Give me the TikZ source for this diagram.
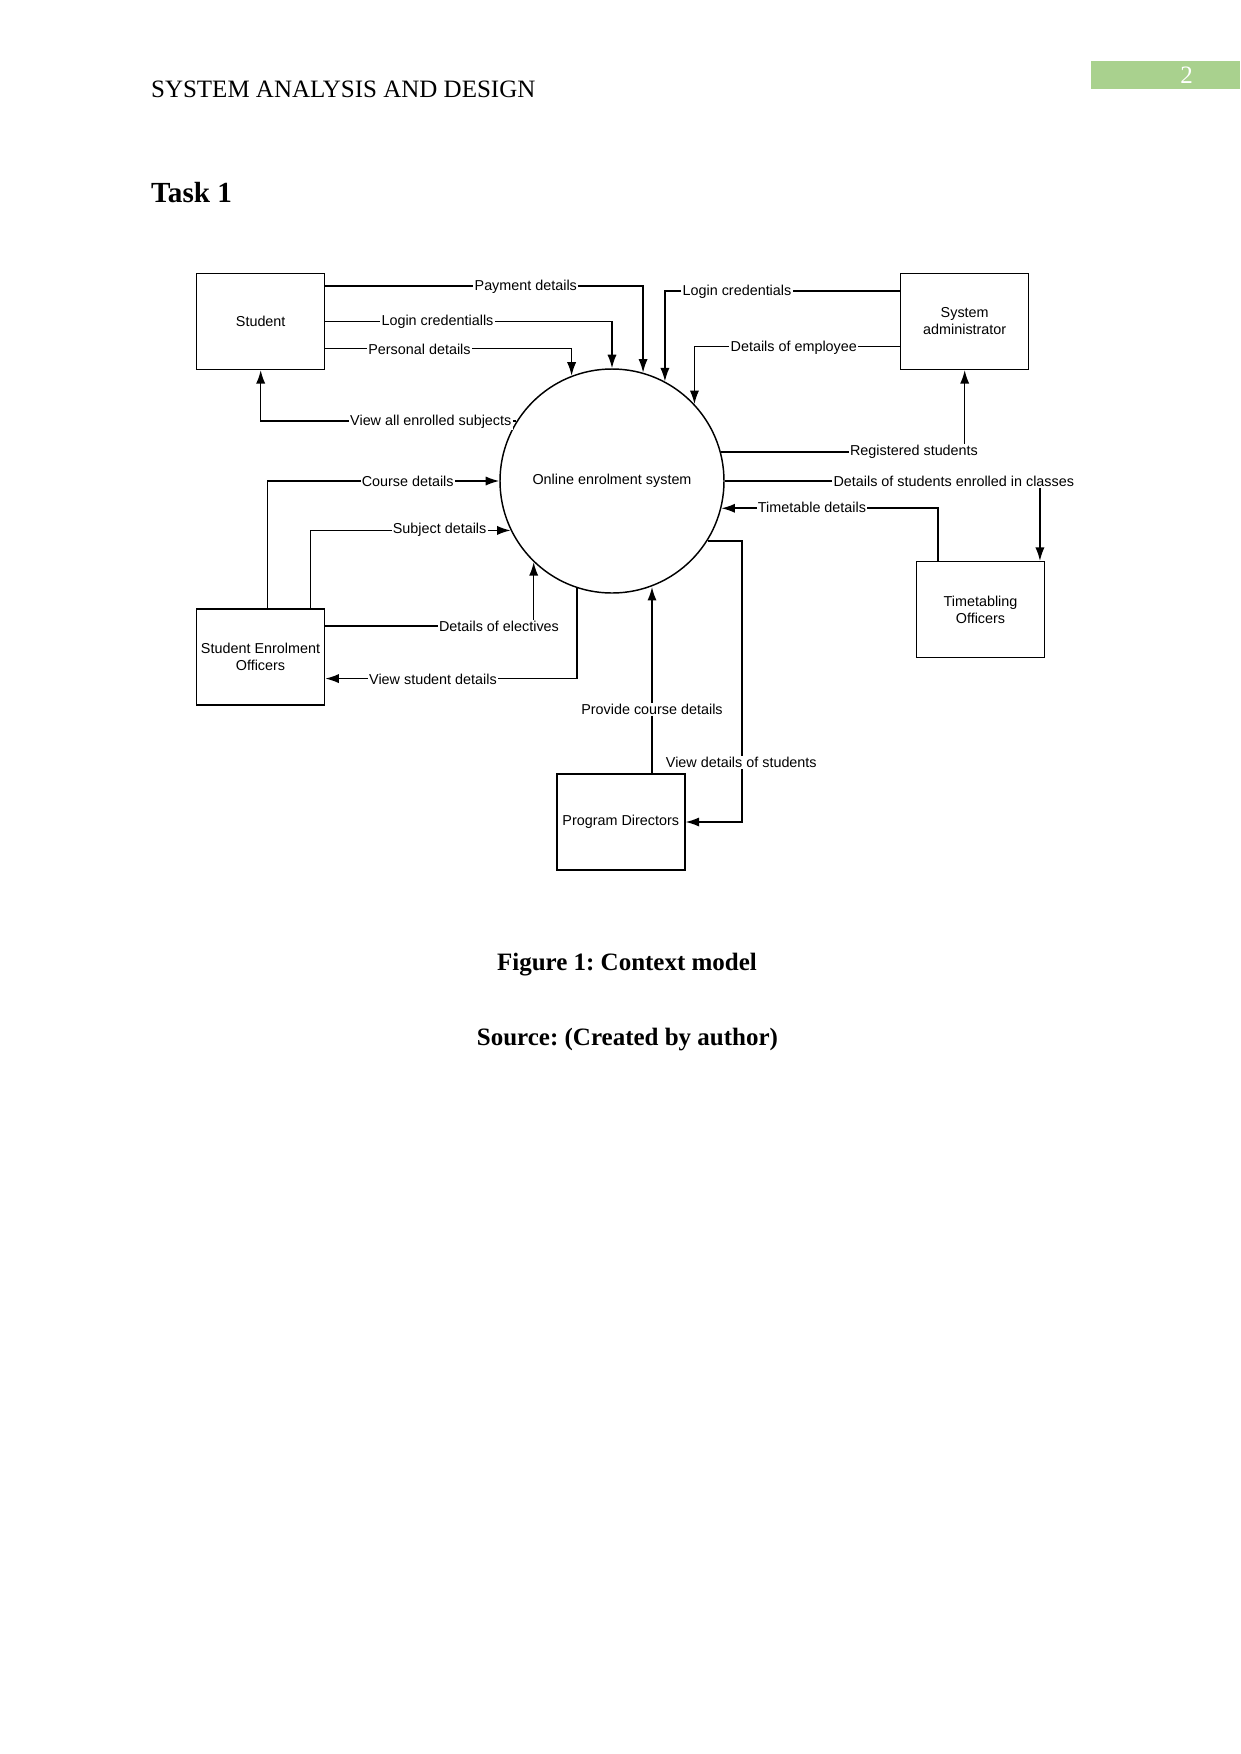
\documentclass[tikz,border=0pt]{standalone}
\usepackage{fontspec}
\setmainfont{Liberation Serif}
\newfontfamily\diagfont{Liberation Sans}
\usetikzlibrary{arrows.meta,calc}
\definecolor{pagegreen}{HTML}{A9D18E}
\frenchspacing
\begin{document}
\begin{tikzpicture}[x=0.48pt,y=-0.48pt,
  dfont/.style={font=\diagfont\fontsize{6.9}{8.2}\selectfont},
  ebox/.style={draw,line width=0.7pt,minimum width=61.44pt,minimum height=46.08pt,inner sep=1pt,align=center,dfont},
  proc/.style={draw,circle,line width=0.7pt,minimum size=107.52pt,inner sep=0pt,dfont},
  lbl/.style={fill=white,inner sep=0.6pt,dfont},
  flow/.style={line width=0.75pt},
  arr/.style={flow,-{Latex[length=6.5pt,width=4.4pt]}},
]
\fill[white] (0,0) rectangle (1241,1754);
\useasboundingbox (0,0) rectangle (1241,1754);

% page header
\node[anchor=base west,inner sep=0pt,font=\fontsize{12}{14}\selectfont] (header) at (150.7,97.3) {SYSTEM ANALYSIS AND DESIGN};
\node[fill=pagegreen,minimum width=71.66pt,minimum height=13.73pt,inner sep=0pt] (pagebox) at (1165.35,75) {};
\node[anchor=base,inner sep=0pt,text=white,font=\fontsize{12}{14}\selectfont] (pagenum) at (1186.7,83.3) {2};
\node[anchor=base west,inner sep=0pt,font=\bfseries\fontsize{14}{16}\selectfont] (task) at (150.7,202.7) {Task 1};

% entities and process
\node[ebox] (student) at (260.7,321.3) {Student};
\node[ebox] (admin) at (964.7,321.3) {System\\administrator};
\node[ebox] (seo) at (260.5,657) {Student Enrolment\\Officers};
\node[ebox] (tto) at (980.5,609.7) {Timetabling\\Officers};
\node[ebox] (pd) at (620.8,822) {Program Directors};
\node[proc] (sys) at (612,481) {Online enrolment system};

% connectors
\draw[arr] ($(student.north east)+(0,13.4)$) -| (sys.74.6);
\draw[arr] (student.east) -| (sys.north);
\draw[arr] ($(student.north east)+(0,76)$) -| (sys.111.1);
\draw[arr] ($(admin.north west)+(0,18.4)$) -| (sys.62.2);
\draw[arr] ($(admin.north west)+(0,74)$) -| (sys.43.9);
\draw[arr] (sys.148.8) -| (student.south);
\draw[arr] (sys.15.2) -| (admin.south);
\draw[arr] (sys.east) -| ($(tto.north east)+(-5.3,0)$);
\draw[arr] ($(tto.north west)+(22.3,0)$) |- (sys.346.4);
\draw[arr] ($(seo.north)+(6.8,0)$) |- (sys.west);
\draw[arr] ($(seo.north)+(50.2,0)$) |- (sys.206);
\draw[arr] ($(seo.north east)+(0,17.7)$) -| (sys.226.6);
\draw[arr] (sys.252.2) |- ($(seo.north east)+(0,70.3)$);
\coordinate (pdtop) at ($(pd.north)+(31.2,0)$);
\draw[arr] (pdtop) -- (pdtop |- sys.290.9);
\draw[arr] (sys.328.2) -| ($(pd.east)+(56.2,0)$) -- (pd.east);

% flow labels
\node[lbl] (lpay) at (525.8,286.7) {Payment details};
\node[lbl] (llog) at (437.5,321.3) {Login credentialls};
\node[lbl] (lpers) at (419.5,349.3) {Personal details};
\node[lbl] (llog2) at (737,291.7) {Login credentials};
\node[lbl] (lemp) at (793.8,347.3) {Details of employee};
\node[lbl] (lview) at (430.8,422) {View all enrolled subjects};
\node[lbl] (lreg) at (914,451.7) {Registered students};
\node[lbl] (lenr) at (953.8,481) {Details of students enrolled in classes};
\node[lbl] (ltt) at (812,507.3) {Timetable details};
\node[lbl] (lcourse) at (407.7,481) {Course details};
\node[lbl] (lsubj) at (439.6,530) {Subject details};
\node[lbl] (lelec) at (499,626.7) {Details of electives};
\node[lbl] (lvsd) at (433,679.3) {View student details};
\node[lbl] (lprov) at (652,709.3) {Provide course details};
\node[lbl] (lvds) at (741.3,762.7) {View details of students};

% captions
\node[anchor=base,inner sep=0pt,font=\bfseries\fontsize{12}{14}\selectfont] (cap) at (627,970) {Figure 1: Context model};
\node[anchor=base,inner sep=0pt,font=\bfseries\fontsize{12}{14}\selectfont] (src) at (627.5,1045) {Source: (Created by author)};
\end{tikzpicture}
\end{document}
